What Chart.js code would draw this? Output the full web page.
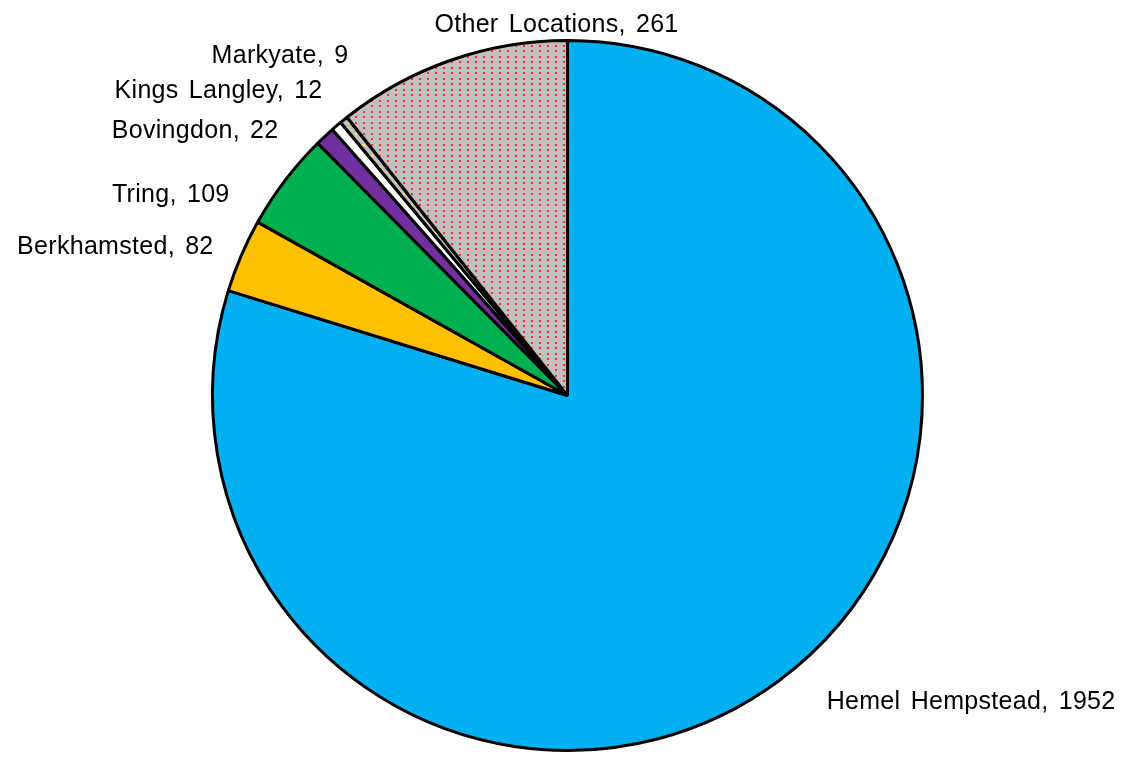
<!DOCTYPE html>
<html>
<head>
<meta charset="utf-8">
<script src="https://cdn.jsdelivr.net/npm/chart.js@4.4.1/dist/chart.umd.min.js"></script>
<style>
  html, body { margin: 0; padding: 0; background: #fff; }
  #wrap { width: 1135px; height: 763px; position: relative; }
</style>
</head>
<body>
<div id="wrap"><canvas id="pie"></canvas></div>
<script>
// dados do gráfico
const locations = ['Hemel Hempstead', 'Berkhamsted', 'Tring', 'Bovingdon', 'Kings Langley', 'Markyate', 'Other Locations'];
const counts = [1952, 82, 109, 22, 12, 9, 261];

// posição dos rótulos relativa ao centro, em unidades de raio (layout, não dados)
const labelPos = [
  { dx: 0.73, dy: 0.882, align: 'left' },
  { dx: -0.997, dy: -0.40, align: 'right' },
  { dx: -0.952, dy: -0.544, align: 'right' },
  { dx: -0.814, dy: -0.724, align: 'right' },
  { dx: -0.69, dy: -0.839, align: 'right' },
  { dx: -0.617, dy: -0.938, align: 'right' },
  { dx: -0.031, dy: -1.025, align: 'center' },
];

// padrão pontilhado (estilo Excel)
const dotPattern = (bg, dot) => {
  const c = document.createElement('canvas');
  c.width = 8; c.height = 11;
  const g = c.getContext('2d');
  g.fillStyle = bg;
  g.fillRect(0, 0, 8, 11);
  g.fillStyle = dot;
  g.fillRect(3, 1, 2, 2);
  g.fillRect(3, 6, 2, 2);
  return g.createPattern(c, 'repeat');
};

const fills = [
  '#00b0f0',
  '#ffc000',
  '#00b050',
  '#7030a0',
  '#ffffff',
  dotPattern('#c0c0c0', '#ffff00'),
  dotPattern('#c0c0c0', '#ff3030'),
];

const labelsPlugin = {
  id: 'pieLabels',
  afterDatasetsDraw(chart) {
    const { ctx } = chart;
    const arcs = chart.getDatasetMeta(0).data;
    ctx.save();
    ctx.font = '25px "Liberation Sans", Arial, sans-serif';
    ctx.letterSpacing = '0.3px';
    ctx.wordSpacing = '3px';
    ctx.fillStyle = '#000';
    ctx.textBaseline = 'alphabetic';
    arcs.forEach((arc, i) => {
      const p = labelPos[i];
      const r = arc.outerRadius;
      ctx.textAlign = p.align;
      ctx.fillText(`${locations[i]}, ${counts[i]}`, arc.x + p.dx * r, arc.y + p.dy * r);
    });
    ctx.restore();
  },
};

new Chart(document.getElementById('pie'), {
  type: 'pie',
  data: {
    labels: locations,
    datasets: [{
      data: counts,
      backgroundColor: fills,
      borderColor: '#000',
      borderWidth: 3,
    }],
  },
  options: {
    responsive: true,
    maintainAspectRatio: false,
    animation: false,
    layout: { padding: { top: 39, bottom: 11, left: 0, right: 0 } },
    plugins: {
      legend: { display: false },
      tooltip: { enabled: false },
    },
  },
  plugins: [labelsPlugin],
});
</script>
</body>
</html>
